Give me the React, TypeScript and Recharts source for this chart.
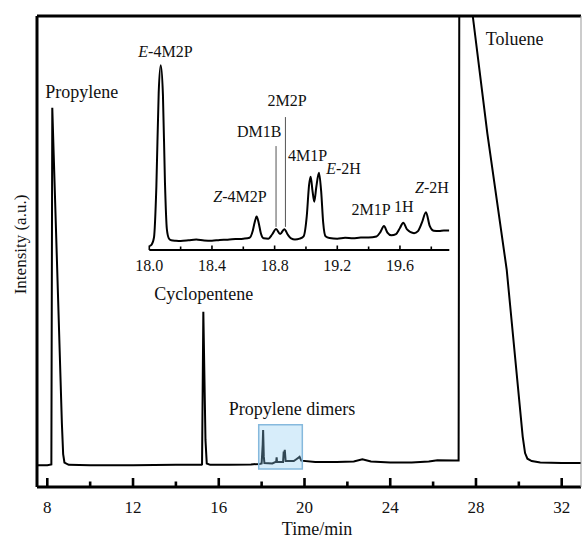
import React from 'react';
import { LineChart, Line, XAxis, YAxis, ReferenceArea, ReferenceDot, ReferenceLine } from 'recharts';

const FONT = "'Liberation Serif', 'Times New Roman', serif";

// full chromatogram (time in min, intensity in a.u., clipped at 100)
const mainTime = [
  7.52, 8.0, 8.19, 8.233, 8.3, 8.5, 8.68, 8.74, 8.8, 9.0, 10, 12, 14, 15.2, 15.22, 15.28, 15.38, 15.44,
  15.6, 16.5, 17.5, 17.9, 18.0, 18.05, 18.07, 18.1, 18.13, 18.5, 18.68, 18.7, 18.72, 19.0, 19.03, 19.05,
  19.08, 19.12, 19.5, 19.62, 19.77, 19.85, 20.5, 21.5, 22.3, 22.7, 23.1, 24, 25, 25.8, 26.2, 27.0, 27.19,
  27.23, 27.85, 28.53, 29.435, 30.18, 30.29, 30.4, 30.6, 31.0, 32.0, 32.9,
];
const mainSignal = [
  4.6, 4.6, 4.8, 80.5, 70.5, 40.6, 13.6, 7.0, 5.2, 4.7, 4.6, 4.6, 4.7, 4.7, 4.8, 37.2, 10.0, 5.0,
  4.7, 4.7, 4.8, 4.9, 5.0, 9.0, 12.1, 6.5, 5.1, 5.0, 5.4, 6.3, 5.3, 5.3, 7.5, 6.8,
  7.9, 5.5, 5.5, 5.9, 6.4, 5.6, 5.3, 5.3, 5.4, 5.9, 5.4, 5.2, 5.2, 5.4, 5.7, 5.6, 5.6,
  130, 100, 75.1, 46.1, 10.7, 7.2, 6.0, 5.5, 5.2, 5.1, 5.1,
];

// zoomed propylene dimer region
const insetTime = [
  18.0, 18.015, 18.03, 18.045, 18.06, 18.073, 18.087, 18.1, 18.112, 18.125, 18.14, 18.17, 18.2, 18.25,
  18.3, 18.35, 18.4, 18.45, 18.5, 18.55, 18.6, 18.64, 18.66, 18.672, 18.685, 18.698, 18.712, 18.73,
  18.76, 18.785, 18.809, 18.835, 18.862, 18.885, 18.905, 18.93, 18.96, 18.985, 19.005, 19.02, 19.03,
  19.042, 19.053, 19.066, 19.083, 19.097, 19.11, 19.125, 19.15, 19.2, 19.25, 19.3, 19.35, 19.4, 19.45,
  19.475, 19.498, 19.52, 19.545, 19.575, 19.6, 19.621, 19.645, 19.69, 19.715, 19.74, 19.766, 19.79,
  19.815, 19.85, 19.88, 19.915,
];
const insetSignal = [
  1.9, 2.6, 6, 30, 75, 88, 74, 32, 10, 5.5, 4.6, 4.4, 4.3, 4.6,
  5.0, 4.5, 4.4, 4.8, 4.9, 5.2, 5.4, 5.8, 9, 13, 15.9, 13, 8, 5.6,
  5.4, 7.5, 10, 7.6, 9.9, 7.2, 5.5, 5.0, 5.4, 6.5, 16, 31, 34.9,
  28, 23, 30, 36.8, 28, 13, 6.5, 5.7, 5.4, 5.8, 5.6, 5.9, 5.9, 6.4,
  8.5, 11.4, 8.3, 7.0, 7.6, 10.5, 13, 9.8, 8.0, 9, 13, 18, 11.5,
  9.2, 9.0, 9.3, 9.3,
];

const mainTicks = [8, 10, 12, 14, 16, 18, 20, 22, 24, 26, 28, 30, 32];
const insetTicks = [18.0, 18.2, 18.4, 18.6, 18.8, 19.0, 19.2, 19.4, 19.6, 19.8];
const xDomain = [7.52, 32.9];

const mainPeaks = [
  { name: 'Propylene', t: 9.606, v: 82.6 },
  { name: 'Cyclopentene', t: 15.3, v: 39.6 },
  { name: 'Propylene dimers', t: 19.42, v: 15.3 },
  { name: 'Toluene', t: 29.8, v: 93.8 },
];

const insetPeaks = [
  { pre: 'E', name: '-4M2P', t: 18.103, v: 91.9 },
  { pre: '', name: '2M2P', t: 18.879, v: 68.6 },
  { pre: '', name: 'DM1B', t: 18.702, v: 53.7 },
  { pre: '', name: '4M1P', t: 19.01, v: 42.5 },
  { pre: 'E', name: '-2H', t: 19.24, v: 36.2 },
  { pre: 'Z', name: '-4M2P', t: 18.579, v: 23.0 },
  { pre: '', name: '2M1P', t: 19.415, v: 16.7 },
  { pre: '', name: '1H', t: 19.625, v: 18.2 },
  { pre: 'Z', name: '-2H', t: 19.804, v: 27.3 },
];

// leader lines for DM1B and 2M2P
const leaders = [
  { t: 18.809, from: 11, to: 49.5 },
  { t: 18.869, from: 11, to: 63.3 },
];

const mainData = mainTime.map((t, i) => ({ t, v: mainSignal[i] }));
const insetData = insetTime.map((t, i) => ({ t, v: insetSignal[i] }));

const MainTick = (props: any) => {
  const { x, y, payload } = props;
  const major = payload.value % 4 === 0;
  return (
    <g>
      <line x1={x} x2={x} y1={y} y2={y - (major ? 9 : 5.5)} stroke="#000" strokeWidth={2.6} />
      {major && (
        <text x={x} y={y + 26} textAnchor="middle" fontSize={17} fontFamily={FONT} fill="#111">
          {payload.value}
        </text>
      )}
    </g>
  );
};

const InsetTick = (props: any) => {
  const { x, y, payload } = props;
  const major = Math.round(payload.value * 10) % 4 === 0;
  return (
    <g>
      <line x1={x} x2={x} y1={y} y2={y - (major ? 4.5 : 3.5)} stroke="#000" strokeWidth={1.6} />
      {major && (
        <text x={x} y={y + 21} textAnchor="middle" fontSize={16} fontFamily={FONT} fill="#111">
          {payload.value.toFixed(1)}
        </text>
      )}
    </g>
  );
};

const peakLabel = (pre: string, name: string, size: number) => (props: any) => {
  const { viewBox } = props;
  const cx = viewBox.x + (viewBox.width || 0) / 2;
  const cy = viewBox.y + (viewBox.height || 0) / 2;
  return (
    <text x={cx} y={cy} textAnchor="middle" fontSize={size} fontFamily={FONT} fill="#111">
      {pre && <tspan fontStyle="italic">{pre}</tspan>}
      <tspan>{name}</tspan>
    </text>
  );
};

export default function App() {
  return (
    <div style={{ position: 'absolute', left: 0, top: 0, width: 582, height: 538, background: '#fff' }}>
      <LineChart width={582} height={538} data={mainData} margin={{ top: 16, right: 1, bottom: 0, left: 36 }}>
        <XAxis
          dataKey="t"
          type="number"
          domain={xDomain}
          allowDataOverflow
          ticks={mainTicks}
          interval={0}
          height={51}
          tickSize={0}
          tickMargin={0}
          tickLine={false}
          tick={MainTick}
          axisLine={{ stroke: '#000', strokeWidth: 3 }}
          label={(p: any) => (
            <text
              x={p.viewBox.x + p.viewBox.width / 2 + 8}
              y={p.viewBox.y + 48}
              textAnchor="middle"
              fontSize={18}
              fontFamily={FONT}
              fill="#111"
            >
              Time/min
            </text>
          )}
        />
        <YAxis
          domain={[0, 100]}
          allowDataOverflow
          width={1}
          tick={false}
          tickLine={false}
          axisLine={false}
          label={(p: any) => {
            const cy = p.viewBox.y + p.viewBox.height / 2 - 7;
            return (
              <text
                x={26}
                y={cy}
                transform={`rotate(-90, 26, ${cy})`}
                textAnchor="middle"
                fontSize={17}
                fontFamily={FONT}
                fill="#111"
              >
                Intensity (a.u.)
              </text>
            );
          }}
        />
        {/* frame: thick left and top, thin grey right */}
        <ReferenceLine x={xDomain[0]} stroke="#000" strokeWidth={3} ifOverflow="visible" zIndex={600} />
        <ReferenceLine y={100} stroke="#000" strokeWidth={3} ifOverflow="visible" zIndex={600} />
        <ReferenceLine x={xDomain[1]} stroke="#999" strokeWidth={1} ifOverflow="visible" zIndex={600} />
        <Line
          type="linear"
          dataKey="v"
          stroke="#000"
          strokeWidth={2}
          dot={false}
          activeDot={false}
          isAnimationActive={false}
        />
        <ReferenceArea
          x1={17.864}
          x2={19.898}
          y1={3.8}
          y2={13.2}
          fill="#8ccbf0"
          fillOpacity={0.35}
          stroke="#86b9dd"
          strokeWidth={1.5}
          zIndex={450}
        />
        {mainPeaks.map((p) => (
          <ReferenceDot
            key={p.name}
            x={p.t}
            y={p.v}
            r={0}
            fill="none"
            stroke="none"
            label={peakLabel('', p.name, 18)}
          />
        ))}
      </LineChart>

      <div style={{ position: 'absolute', left: 120, top: 20 }}>
        <LineChart
          width={345}
          height={265}
          data={insetData}
          margin={{ top: 20, right: 15.7, bottom: 0, left: 29.3 }}
        >
          <XAxis
            dataKey="t"
            type="number"
            domain={[18.0, 19.915]}
            allowDataOverflow
            ticks={insetTicks}
            interval={0}
            height={35}
            tickSize={0}
            tickMargin={0}
            tickLine={false}
            tick={InsetTick}
            axisLine={{ stroke: '#000', strokeWidth: 2 }}
          />
          <YAxis hide domain={[0, 100]} allowDataOverflow width={0} />
          <Line
            type="monotone"
            dataKey="v"
            stroke="#000"
            strokeWidth={2}
            dot={false}
            activeDot={false}
            isAnimationActive={false}
          />
          {leaders.map((l) => (
            <ReferenceLine
              key={l.t}
              segment={[{ x: l.t, y: l.from }, { x: l.t, y: l.to }]}
              stroke="#555"
              strokeWidth={1}
            />
          ))}
          {insetPeaks.map((p) => (
            <ReferenceDot
              key={p.pre + p.name}
              x={p.t}
              y={p.v}
              r={0}
              fill="none"
              stroke="none"
              label={peakLabel(p.pre, p.name, 16)}
            />
          ))}
        </LineChart>
      </div>
    </div>
  );
}
